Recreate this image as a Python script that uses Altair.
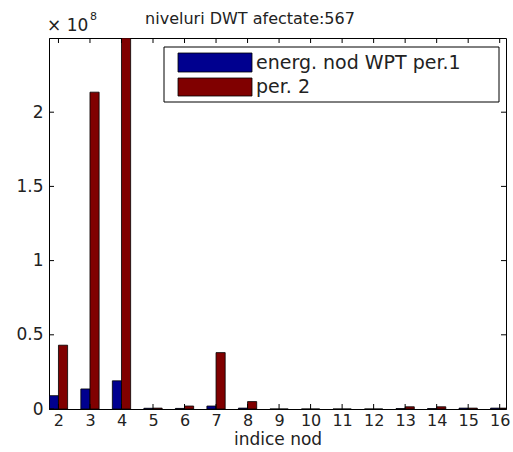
import altair as alt
import pandas as pd

nodes = list(range(2, 17))
per1 = [0.09, 0.135, 0.19, 0.005, 0.004, 0.02, 0.006, 0, 0, 0, 0, 0.003, 0.003, 0.006, 0.006]
per2 = [0.43, 2.135, 2.5, 0.006, 0.02, 0.38, 0.05, 0, 0, 0, 0, 0.015, 0.015, 0.006, 0.006]
series_names = ["energ. nod WPT per.1", "per. 2"]
colors = ["#00008F", "#800000"]
yticks = [0, 0.5, 1, 1.5, 2]
title_text = "niveluri DWT afectate:567"
xlabel = "indice nod"

W, H = 457, 371
FONT = "DejaVu Sans"
BW = 0.29

rows = []
for n, a, b in zip(nodes, per1, per2):
    rows.append({"node": n, "val": a, "series": series_names[0], "k": 0})
    rows.append({"node": n, "val": b, "series": series_names[1], "k": 1})
df = pd.DataFrame(rows)

xscale = alt.Scale(domain=[1.70, 16.2], nice=False, zero=False)
yscale = alt.Scale(domain=[0, 2.5], nice=False)

xaxis = alt.Axis(values=nodes, format="d", title=xlabel, tickSize=0,
                 labelFontSize=16, labelFont=FONT, labelColor="#222",
                 labelPadding=3, labelOverlap=False, labelBound=False,
                 titleFontSize=17, titleFont=FONT,
                 titleFontWeight="normal", titleColor="#222", titlePadding=3,
                 grid=False, domainColor="black", labelFlush=False)
yaxis = alt.Axis(values=yticks, format="~g", title=None, tickSize=0,
                 labelFontSize=17, labelFont=FONT, labelColor="#222",
                 labelPadding=6, labelOverlap=False, grid=False,
                 domainColor="black")

bars = alt.Chart(df).transform_calculate(
    x0=f"datum.node - {BW} + datum.k * {BW}",
    x1=f"datum.node + datum.k * {BW}",
    base="0",
).mark_bar(stroke="black", strokeWidth=0.8, clip=True).encode(
    x=alt.X("x0:Q", scale=xscale, axis=xaxis),
    x2="x1:Q",
    y=alt.Y("val:Q", scale=yscale, axis=yaxis),
    y2="base:Q",
    color=alt.Color("series:N", scale=alt.Scale(domain=series_names, range=colors), legend=None),
)

xt = pd.DataFrame({"t": nodes})
yt = pd.DataFrame({"t": yticks})
tick_bottom = alt.Chart(xt).mark_rule(color="black").encode(
    x=alt.X("t:Q", scale=xscale, axis=xaxis), y=alt.value(H), y2=alt.value(H - 5))
tick_top = alt.Chart(xt).mark_rule(color="black").encode(
    x=alt.X("t:Q", scale=xscale, axis=xaxis), y=alt.value(0), y2=alt.value(5))
tick_left = alt.Chart(yt).mark_rule(color="black").encode(
    y=alt.Y("t:Q", scale=yscale, axis=yaxis), x=alt.value(0), x2=alt.value(5))
tick_right = alt.Chart(yt).mark_rule(color="black").encode(
    y=alt.Y("t:Q", scale=yscale, axis=yaxis), x=alt.value(W), x2=alt.value(W - 5))

# legend
one = pd.DataFrame({"a": [0]})
leg_box = alt.Chart(one).mark_rect(
    fill="white", stroke="black", strokeWidth=1).encode(
    x=alt.value(115), x2=alt.value(450), y=alt.value(9), y2=alt.value(64))
leg_layers = [leg_box]
ys = [(15, 34), (40, 58)]
for name, col, (y0, y1) in zip(series_names, colors, ys):
    leg_layers.append(alt.Chart(one).mark_rect(
        fill=col, stroke="black", strokeWidth=0.8).encode(
        x=alt.value(129), x2=alt.value(203), y=alt.value(y0), y2=alt.value(y1)))
    leg_layers.append(alt.Chart(one).mark_text(
        text=name, align="left", baseline="middle", font=FONT, fontSize=19, color="#222").encode(
        x=alt.value(207), y=alt.value((y0 + y1) / 2)))

title_mark = alt.Chart(one).mark_text(
    text=title_text, align="center", baseline="middle", font=FONT, fontSize=16, color="#222").encode(
    x=alt.value(201), y=alt.value(-19))
exp_base = alt.Chart(one).mark_text(
    text="× 10", align="left", baseline="middle", font=FONT, fontSize=17, color="#222").encode(
    x=alt.value(-2), y=alt.value(-12))
exp_sup = alt.Chart(one).mark_text(
    text="8", align="left", baseline="middle", font=FONT, fontSize=11, color="#222").encode(
    x=alt.value(41), y=alt.value(-21))

chart = alt.layer(
    bars, tick_bottom, tick_top, tick_left, tick_right, *leg_layers,
    title_mark, exp_base, exp_sup
).properties(
    width=W, height=H,
    autosize=alt.AutoSizeParams(type="none"),
    padding={"left": 49, "top": 38, "right": 7, "bottom": 43},
    background="white",
).configure_view(stroke="black", strokeWidth=1)

chart.save("out.html", embed_options={"renderer": "svg", "actions": False})
